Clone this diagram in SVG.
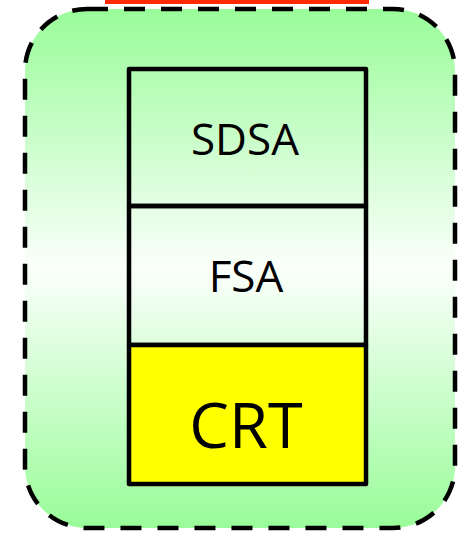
<svg xmlns="http://www.w3.org/2000/svg" width="463" height="533" viewBox="0 0 463 533">
<defs>
<linearGradient id="bg" x1="0" y1="0" x2="0" y2="1">
<stop offset="0" stop-color="#99fc99"/>
<stop offset="0.5" stop-color="#fbfffb"/>
<stop offset="1" stop-color="#99fc99"/>
</linearGradient>
<style>
.box{stroke:#000;stroke-width:4.5;stroke-linejoin:round}
.lbl{font-family:"Open Sans","Noto Sans",sans-serif;fill:#000;text-anchor:middle}
</style>
</defs>
<rect x="0" y="0" width="463" height="533" fill="#fff"/>
<rect x="105" y="0" width="264" height="4" fill="#ff2a00"/>
<g id="container">
<rect x="25" y="9" width="430" height="519" rx="62" ry="62" fill="url(#bg)" stroke="#000" stroke-width="4.5" stroke-dasharray="21 16"/>
</g>
<g id="sdsa">
<rect class="box" x="129" y="69" width="237" height="137" fill="none"/>
<text class="lbl" x="245" y="155" font-size="44">SDSA</text>
</g>
<g id="fsa">
<rect class="box" x="129" y="206" width="237" height="139" fill="none"/>
<text class="lbl" x="246" y="292" font-size="44">FSA</text>
</g>
<g id="crt">
<rect class="box" x="129" y="345" width="237" height="139" fill="#ffff00"/>
<text class="lbl" x="246" y="448" font-size="63">CRT</text>
</g>
</svg>
